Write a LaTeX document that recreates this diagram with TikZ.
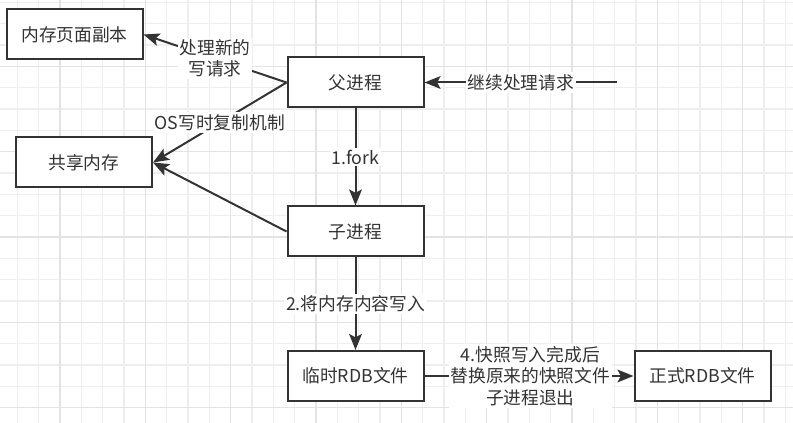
\documentclass[tikz,border=0pt]{standalone}
\usepackage{fontspec}
\setmainfont{Noto Sans CJK SC}
\usetikzlibrary{arrows.meta}
\definecolor{linec}{HTML}{333333}
\definecolor{gridminor}{HTML}{EEEEEE}
\definecolor{gridmajor}{HTML}{E3E3E3}
\tikzset{
  every node/.style={font=\fontsize{13.3}{16}\selectfont, text=linec},
  box/.style={draw=linec, line width=1.5pt, fill=white, minimum width=102pt, minimum height=37.5pt, inner sep=0pt},
  conn/.style={draw=linec, line width=1.5pt, -{Stealth[length=12pt,width=9.5pt,inset=2.5pt]}},
  plainconn/.style={draw=linec, line width=1.5pt},
  lbl/.style={fill=white, inner sep=1.5pt, align=center},
  gminor/.style={draw=gridminor, line width=1.1pt},
  gmajor/.style={draw=gridmajor, line width=1.1pt}
}
\begin{document}
\begin{tikzpicture}[x=0.75pt, y=-0.75pt]
  \fill[white] (0,0) rectangle (793,423);
  \useasboundingbox (0,0) rectangle (793,423);
  % grid
  \foreach \k in {0,...,36} {
    \draw[gminor] ({17.33+21.333*\k},0) -- ({17.33+21.333*\k},423);
  }
  \foreach \k in {0,...,19} {
    \draw[gminor] (0,{2.35+21.333*\k}) -- (793,{2.35+21.333*\k});
  }
  \foreach \k in {2,6,...,34} {
    \draw[gmajor] ({17.33+21.333*\k},0) -- ({17.33+21.333*\k},423);
  }
  \foreach \k in {3,7,...,19} {
    \draw[gmajor] (0,{2.35+21.333*\k}) -- (793,{2.35+21.333*\k});
  }
  % nodes
  \node[box] (mem) at (74.5,34.5) {内存页面副本};
  \node[box] (shared) at (84,162.5) {共享内存};
  \node[box] (parent) at (355.5,82.5) {父进程};
  \node[box] (child) at (355.5,231.5) {子进程};
  \node[box] (temp) at (355.5,376) {临时RDB文件};
  \node[box] (formal) at (702.5,376) {正式RDB文件};
  \coordinate (src) at (617,82.5);
  % connectors
  \draw[conn] (parent.west) -- node[lbl] {处理新的\\写请求} (mem.east);
  \draw[conn] (parent.west) -- node[lbl] {OS写时复制机制} (shared.east);
  \draw[conn] (child.west) -- (shared.east);
  \draw[conn] (src) -- node[lbl] {继续处理请求} (parent.east);
  \draw[conn] (parent.south) -- node[lbl] {1.fork} (child.north);
  \draw[conn] (child.south) -- node[lbl] {2.将内存内容写入} (temp.north);
  \draw[conn] (temp.east) -- node[lbl, xshift=1pt] {4.快照写入完成后\\替换原来的快照文件\\子进程退出} (formal.west);
\end{tikzpicture}
\end{document}
